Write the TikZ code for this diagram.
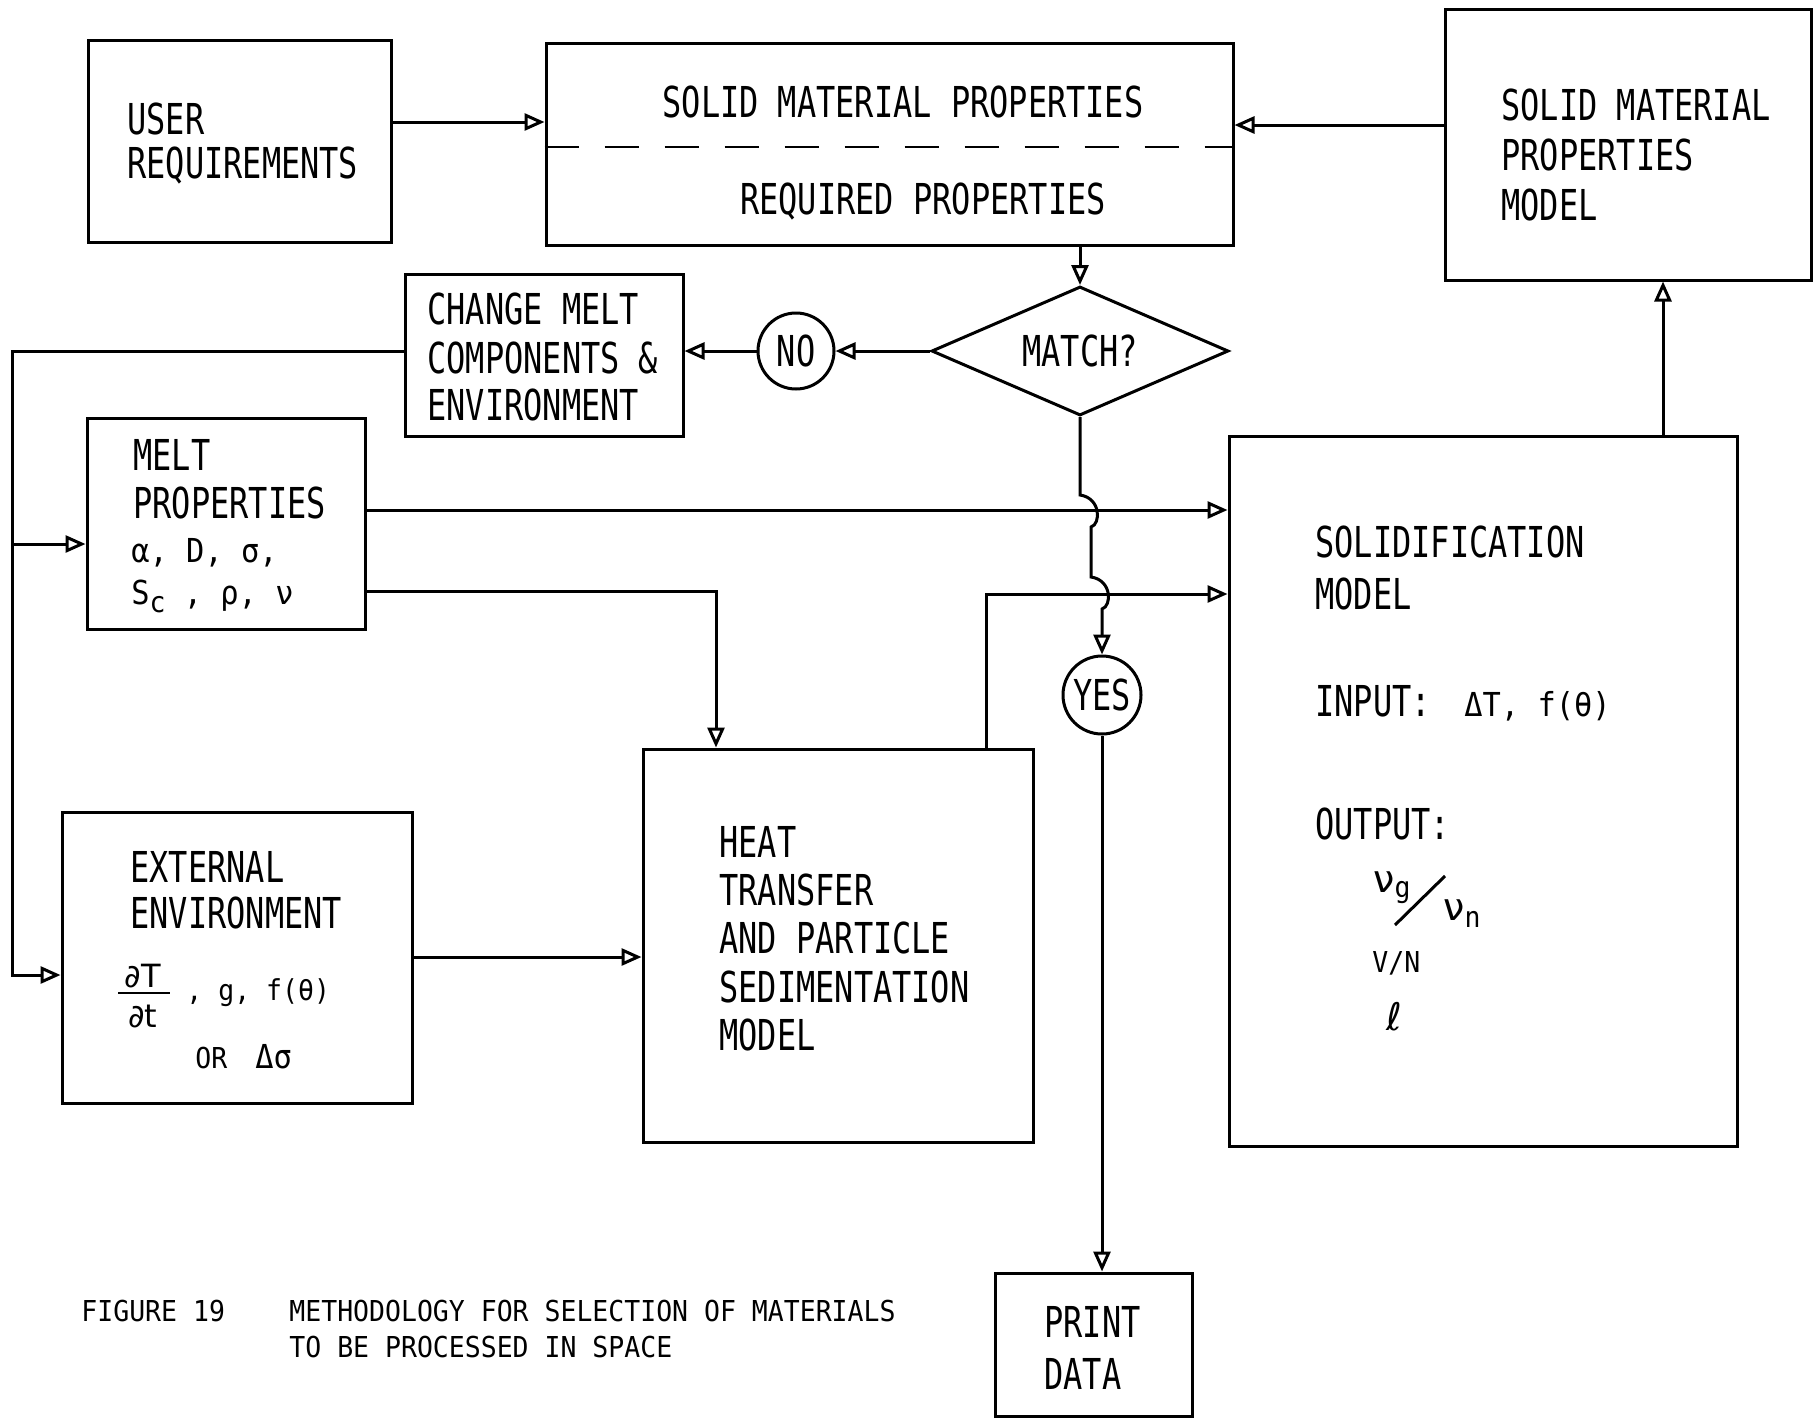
\documentclass[tikz,border=0pt]{standalone}
\usepackage{fontspec}
\setmainfont{DejaVu Sans Mono}
\usetikzlibrary{arrows.meta,shapes.geometric}
\newfontfamily\bigtt[FakeStretch=0.75]{DejaVu Sans Mono}
\newfontfamily\smalltt[FakeStretch=0.92]{DejaVu Sans Mono}
\newfontfamily\symf{DejaVu Sans}
\newcommand\BT{\bigtt\fontsize{21.3}{24}\selectfont}
\newcommand\ST{\smalltt\fontsize{14.4}{17}\selectfont}
\newcommand\MT{\smalltt\fontsize{16.5}{19}\selectfont}
\newcommand\SY{\symf\fontsize{16}{18}\selectfont}
\newcommand\SYB{\symf\fontsize{19}{20}\selectfont}
\begin{document}
\begin{tikzpicture}[x=0.5pt,y=-0.5pt,
  box/.style={draw,line width=1.5pt,inner sep=0pt},
  arr/.style={line width=1.5pt,-{Triangle[open,length=10pt,width=8.5pt]}},
  tl/.style={anchor=base west,inner sep=0pt,font=\BT},
  tc/.style={anchor=base,inner sep=0pt,font=\BT},
  sl/.style={anchor=base west,inner sep=0pt,font=\ST},
  ml/.style={anchor=base west,inner sep=0pt,font=\MT}]
\fill[white] (0,0) rectangle (1815,1419);
\useasboundingbox (0,0) rectangle (1815,1419);

% boxes
\node[box,minimum width=151.5pt,minimum height=101pt] (user) at (239.5,141) {};
\node[box,minimum width=343.5pt,minimum height=101pt] (smp) at (889.5,144) {};
\node[box,minimum width=183pt,minimum height=135.5pt] (smpm) at (1628,144.5) {};
\node[box,minimum width=139pt,minimum height=81pt] (change) at (544,355) {};
\node[box,circle,minimum size=38pt,font=\BT] (no) at (796,351) {NO};
\node[box,diamond,aspect=2.3,minimum width=148.5pt,minimum height=64.5pt,font=\BT] (match) at (1080,351) {MATCH?};
\node[box,minimum width=139pt,minimum height=105.5pt] (melt) at (226,523.5) {};
\node[box,minimum width=254pt,minimum height=355pt] (solid) at (1483,791) {};
\node[box,circle,minimum size=39pt,font=\BT] (yes) at (1102,695) {YES};
\node[box,minimum width=195pt,minimum height=196.5pt] (heat) at (838,945.5) {};
\node[box,minimum width=175pt,minimum height=145.5pt] (ext) at (237,957.5) {};
\node[box,minimum width=98.5pt,minimum height=71.5pt] (print) at (1093.5,1344.5) {};

% dashed divider
\draw[line width=1.3pt,dash pattern=on 17pt off 13pt] (smp.west |- 0,147) -- (smp.east |- 0,147);

% connectors
\draw[arr] (user.east |- 0,122) -- (smp.west |- 0,122);
\draw[arr] (smpm.west |- 0,125) -- (smp.east |- 0,125);
\draw[arr] (smp.south -| match.north) -- (match.north);
\draw[arr] (match.west) -- (no.east);
\draw[arr] (no.west) -- (change.east |- no.west);
\coordinate (fbtop) at (12,351);
\coordinate (fbmid) at (12,544);
\coordinate (fbbot) at (12,975);
\draw[arr] (change.west |- fbtop) -- (fbtop) -- (fbbot) -- (ext.west |- fbbot);
\draw[arr] (fbmid) -- (melt.west |- fbmid);
\draw[arr] (melt.east |- 0,510) -- (solid.west |- 0,510);
\draw[arr] (melt.east |- 0,591) -| (heat.north -| 716,0);
\draw[arr] (ext.east |- 0,957) -- (heat.west |- 0,957);
\draw[arr] (heat.north -| 986,0) |- (solid.west |- 0,594);
\draw[arr] (match.south) -- (1080,495) .. controls (1101,498) and (1101,524) .. (1091,527) -- (1091,577) .. controls (1112,580) and (1112,606) .. (1102,609) -- (yes.north);
\draw[arr] (yes.south) -- (print.north -| yes.south);
\draw[arr] (solid.north -| 1663,0) -- (smpm.south -| 1663,0);

% texts
\node[tl] (u1) at (127,134) {USER};
\node[tl] (u2) at (127,178) {REQUIREMENTS};
\node[tc] (s1) at (903,117) {SOLID MATERIAL PROPERTIES};
\node[tc] (s2) at (923,214) {REQUIRED PROPERTIES};
\node[tl] (m1) at (1501,120) {SOLID MATERIAL};
\node[tl] (m2) at (1501,170) {PROPERTIES};
\node[tl] (m3) at (1501,220) {MODEL};
\node[tl] (c1) at (427,324) {CHANGE MELT};
\node[tl] (c2) at (427,373) {COMPONENTS \&};
\node[tl] (c3) at (427,420) {ENVIRONMENT};
\node[tl] (p1) at (133,470) {MELT};
\node[tl] (p2) at (133,518) {PROPERTIES};
\node[ml] (p3) at (131,562) {α, D, σ,};
\node[ml] (p4) at (131,604) {S\raisebox{-0.25em}{\ST c} , ρ, ν};
\node[tl] (h1) at (719,857) {HEAT};
\node[tl] (h2) at (719,905) {TRANSFER};
\node[tl] (h3) at (719,953) {AND PARTICLE};
\node[tl] (h4) at (719,1002) {SEDIMENTATION};
\node[tl] (h5) at (719,1050) {MODEL};
\node[tl] (e1) at (130,882) {EXTERNAL};
\node[tl] (e2) at (130,928) {ENVIRONMENT};
\node[anchor=base,inner sep=0pt,font=\SY] (dT) at (143,987) {∂T};
\draw[line width=1.3pt] (118,993) -- (170,993);
\node[anchor=base,inner sep=0pt,font=\SY] (dt) at (143,1027) {∂t};
\node[sl] (e3) at (186,1000) {, g, f(θ)};
\node[sl] (e4) at (195,1068) {OR};
\node[ml] (e5) at (255,1068) {Δσ};
\node[tl] (o1) at (1315,557) {SOLIDIFICATION};
\node[tl] (o2) at (1315,609) {MODEL};
\node[tl] (o3) at (1315,716) {INPUT:};
\node[ml] (o4) at (1464,716) {ΔT, f(θ)};
\node[tl] (o5) at (1315,839) {OUTPUT:};
\node[anchor=base west,inner sep=0pt,font=\SYB] (o6) at (1373,892) {ν\raisebox{-0.15em}{\ST g}};
\draw[line width=1.5pt] (1395,925) -- (1445,876);
\node[anchor=base west,inner sep=0pt,font=\SYB] (o7) at (1443,920) {ν\raisebox{-0.2em}{\ST n}};
\node[sl] (o8) at (1372,972) {V/N};
\node[anchor=base west,inner sep=0pt,font=\SYB] (o9) at (1386,1030) {ℓ};
\node[tl] (r1) at (1044,1337) {PRINT};
\node[tl] (r2) at (1044,1389) {DATA};
\node[sl] (f1) at (81,1321) {FIGURE 19};
\node[sl] (f2) at (289,1321) {METHODOLOGY FOR SELECTION OF MATERIALS};
\node[sl] (f3) at (289,1357) {TO BE PROCESSED IN SPACE};
\end{tikzpicture}
\end{document}
